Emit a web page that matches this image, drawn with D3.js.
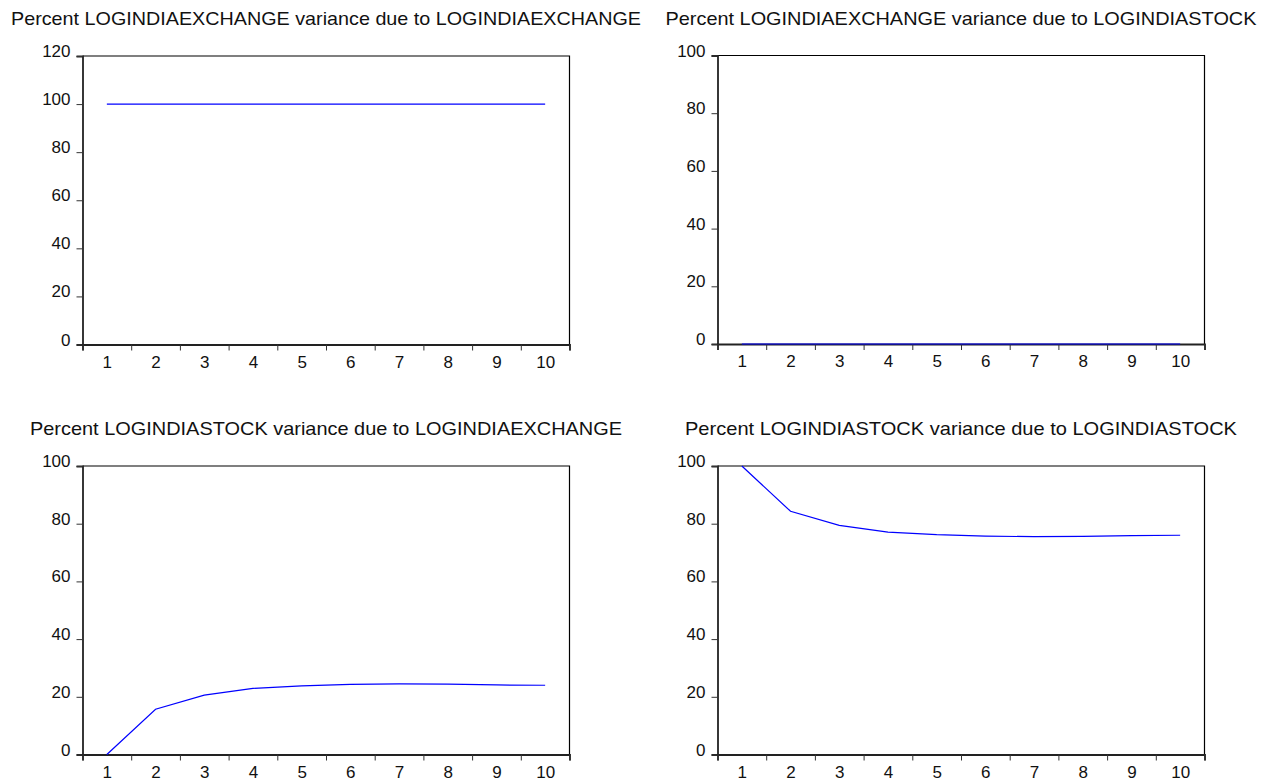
<!DOCTYPE html>
<html>
<head>
<meta charset="utf-8">
<script src="https://cdn.jsdelivr.net/npm/d3@7"></script>
<style>
  html, body { margin: 0; padding: 0; background: #fff; }
  svg { display: block; }
  text { font-family: "Liberation Sans", Arial, sans-serif; fill: #111; }
</style>
</head>
<body>
<svg id="chart" width="1275" height="783"></svg>
<script>
// ---- data ----
const periods = [1, 2, 3, 4, 5, 6, 7, 8, 9, 10];
const exchangeDueExchange = [100, 100, 100, 100, 100, 100, 100, 100, 100, 100];
const exchangeDueStock = [0, 0, 0, 0, 0, 0, 0, 0, 0, 0];
const stockDueExchange = [0, 15.7, 20.6, 22.9, 23.8, 24.3, 24.5, 24.4, 24.1, 24.0];
const stockDueStock = [100, 84.3, 79.4, 77.1, 76.2, 75.7, 75.5, 75.6, 75.9, 76.0];
const titles = [
  "Percent LOGINDIAEXCHANGE variance due to LOGINDIAEXCHANGE",
  "Percent LOGINDIAEXCHANGE variance due to LOGINDIASTOCK",
  "Percent LOGINDIASTOCK variance due to LOGINDIAEXCHANGE",
  "Percent LOGINDIASTOCK variance due to LOGINDIASTOCK"
];
const yTicksA = [0, 20, 40, 60, 80, 100, 120];
const yTicksB = [0, 20, 40, 60, 80, 100];

const panels = [
  { title: titles[0], values: exchangeDueExchange, yMax: 120, yTicks: yTicksA, left: 82.5, top: 56, titleW: 630 },
  { title: titles[1], values: exchangeDueStock, yMax: 100, yTicks: yTicksB, left: 717.5, top: 55.5, titleW: 591 },
  { title: titles[2], values: stockDueExchange, yMax: 100, yTicks: yTicksB, left: 82.5, top: 466, titleW: 592 },
  { title: titles[3], values: stockDueStock, yMax: 100, yTicks: yTicksB, left: 717.5, top: 466, titleW: 552 }
];
const W = 487, H = 288.5;

const svg = d3.select("#chart");

panels.forEach(p => {
  const g = svg.append("g").attr("transform", `translate(${p.left},${p.top})`);
  const x = d3.scaleLinear().domain([0.5, 10.5]).range([0, W]);
  const y = d3.scaleLinear().domain([0, p.yMax]).range([H, 0]);

  // title
  g.append("text")
    .attr("x", W / 2).attr("y", -31)
    .attr("text-anchor", "middle")
    .attr("font-size", 19)
    .attr("textLength", p.titleW)
    .attr("lengthAdjust", "spacingAndGlyphs")
    .text(p.title);

  // frame top/right
  g.append("path")
    .attr("d", `M0,0H${W}V${H}`)
    .attr("fill", "none").attr("stroke", "#000").attr("stroke-width", 1.2);

  // y axis
  const ya = g.append("g").call(d3.axisLeft(y).tickValues(p.yTicks).tickSize(6).tickPadding(6).tickFormat(d3.format("d")));
  ya.select(".domain").attr("stroke", "#222").attr("stroke-width", 1.8);
  ya.selectAll(".tick line").attr("stroke", "#333");
  ya.selectAll(".tick text").attr("font-size", 17).attr("dy", "0.03em").attr("fill", "#111")
    .attr("font-family", "Liberation Sans, Arial, sans-serif");

  // x axis ticks between periods
  const xa = g.append("g").attr("transform", `translate(0,${H})`)
    .call(d3.axisBottom(x).tickValues(d3.range(0.5, 11, 1)).tickSize(6).tickFormat(""));
  xa.select(".domain").attr("stroke", "#222").attr("stroke-width", 1.8);
  xa.selectAll(".tick line").attr("stroke", "#333");

  // x labels
  const xl = g.append("g").attr("transform", `translate(0,${H})`)
    .call(d3.axisBottom(x).tickValues(periods).tickSize(0).tickPadding(11).tickFormat(d3.format("d")));
  xl.select(".domain").remove();
  xl.selectAll(".tick text").attr("font-size", 17).attr("fill", "#111")
    .attr("font-family", "Liberation Sans, Arial, sans-serif");

  // line
  const line = d3.line().x((d, i) => x(periods[i])).y(d => y(d));
  g.append("path")
    .datum(p.values)
    .attr("d", line)
    .attr("fill", "none")
    .attr("stroke", "#0000ff")
    .attr("stroke-width", 1.2);
});
</script>
</body>
</html>
